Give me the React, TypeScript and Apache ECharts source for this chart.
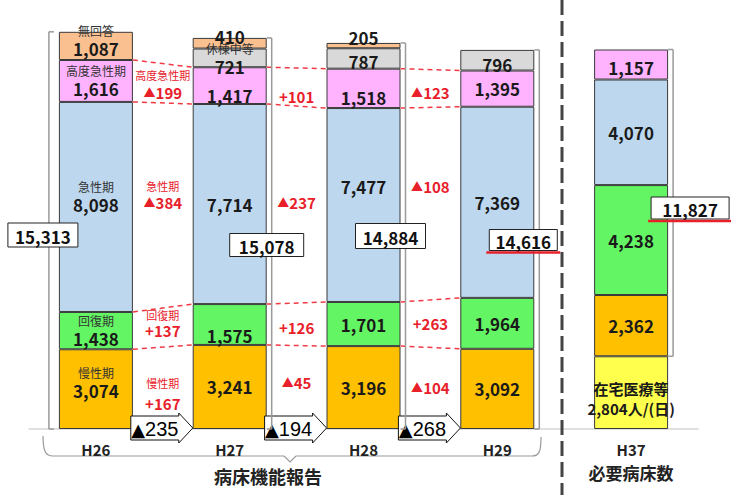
import { useEffect, useRef } from 'react';
import * as echarts from 'echarts';

const categories = ['H26', 'H27', 'H28', 'H29', 'H37'];
const homeCare = [null, null, null, null, 2804];
const chronic = [3074, 3241, 3196, 3092, 2362];
const recovery = [1438, 1575, 1701, 1964, 4238];
const acute = [8098, 7714, 7477, 7369, 4070];
const highAcute = [1616, 1417, 1518, 1395, 1157];
const suspended = [null, 721, 787, 796, null];
const noAnswer = [1087, 410, 205, null, null];

const segNames = ['在宅医療等', '慢性期', '回復期', '急性期', '高度急性期', '休棟中等', '無回答'];
const stackOrder: (number | null)[][] = [homeCare, chronic, recovery, acute, highAcute, suspended, noAnswer];

const FONT = '"Noto Sans CJK JP", "Noto Sans", sans-serif';
const colors = ['#FFFF4D', '#FFC000', '#63F563', '#BDD7EE', '#FFB3FF', '#D9D9D9', '#FAC090'];
const BAR_W = 74;
const HALF = BAR_W / 2;

const val = (arr: (number | null)[], i: number) => (typeof arr[i] === 'number' ? (arr[i] as number) : 0);
const bottomOf = (k: number, i: number) => {
  let s = 0;
  for (let j = 0; j < k; j++) s += val(stackOrder[j], i);
  return s;
};
const topOf = (k: number, i: number) => bottomOf(k, i) + val(stackOrder[k], i);
const fmt = (n: number) => n.toLocaleString('en-US');
const reportedTotal = (i: number) => bottomOf(7, i) - val(homeCare, i);

// label tweaks (style only)
const labelShift: Record<number, number[]> = {
  0: [0, 0, 0, 0, 6],
  1: [-7, 0, 0, 0, 0],
  2: [0, 11, 0, 0, 0],
  3: [-10, 0, -19, 0, 0],
  4: [0, 10, 9, 0, 3],
  5: [0, 1, 3, 4, 0],
  6: [-5, -7, 4, 0, 0],
};
const tags: Record<string, string> = {
  '1-0': '慢性期', '2-0': '回復期', '3-0': '急性期', '4-0': '高度急性期', '6-0': '無回答', '5-1': '休棟中等',
};

const gapNameOffset: Record<number, number> = { 4: -8, 3: -19, 2: -13, 1: -5 };
const gapValueOffset: Record<number, number>[] = [
  { 4: 9, 3: -3, 2: 3, 1: 15 },
  { 4: 10, 3: -2, 2: 3, 1: -5 },
  { 4: 4, 3: -17, 2: 0, 1: -1 },
];
const boxDx = [-53, 37, 27, 26, 59];
const boxY = [235, 245, 236, 240, 208];
const boxW = [70, 74, 70, 68, 78];
const boxH = [24, 23, 25, 21, 22];

export default function App() {
  const ref = useRef<HTMLDivElement>(null);
  useEffect(() => {
    if (!ref.current) return;
    const chart = echarts.init(ref.current, null, { renderer: 'svg' });

    const barSeries = stackOrder.map((arr, k) => ({
      name: segNames[k],
      type: 'bar',
      stack: 'total',
      barWidth: BAR_W,
      z: 2,
      itemStyle: {
        color: colors[k],
        borderColor: '#3A3A3A',
        borderWidth: 1,
      },
      emphasis: { disabled: true },
      label: {
        show: true,
        position: 'inside',
        formatter: (p: any) => {
          const i = p.dataIndex;
          if (k === 0) return `{h|在宅医療等}\n{h|${fmt(p.value)}人/(日)}`;
          const tag = tags[`${k}-${i}`];
          return tag ? `{t|${tag}}\n{v|${fmt(p.value)}}` : `{v|${fmt(p.value)}}`;
        },
        rich: {
          t: { fontSize: 12, color: '#333', lineHeight: 16, fontFamily: FONT },
          v: { fontSize: 17, fontWeight: 'bold', color: '#1a1a1a', lineHeight: 20, fontFamily: FONT },
          h: { fontSize: 15, fontWeight: 'bold', color: '#1a1a1a', lineHeight: 20, fontFamily: FONT },
        },
      },
      data: arr.map((v, i) => {
        if (v == null) return '-';
        const item: any = { value: v, label: { offset: [0, labelShift[k][i]] } };
        if (k === 6 && i === 2) item.label = { position: 'top', distance: 0, offset: [0, 5] };
        return item;
      }),
    }));

    const gapSeries = {
      type: 'custom',
      z: 5,
      clip: false,
      silent: true,
      encode: { x: 0, y: 1 },
      data: [[0, 0], [1, 0], [2, 0]],
      renderItem: (params: any, api: any) => {
        const g = params.dataIndex;
        const p0 = api.coord([g, 0]);
        const p1 = api.coord([g + 1, 0]);
        const xa = p0[0] + HALF;
        const xb = p1[0] - HALF;
        const cx = (p0[0] + p1[0]) / 2;
        const base = p0[1];
        const children: any[] = [];
        const bounds = [
          [bottomOf(2, g), bottomOf(2, g + 1)],
          [topOf(2, g), topOf(2, g + 1)],
          [topOf(3, g), topOf(3, g + 1)],
          [topOf(4, g), topOf(4, g + 1)],
        ];
        bounds.forEach(([a, b]) => {
          children.push({
            type: 'line',
            shape: { x1: xa, y1: api.coord([g, a])[1], x2: xb, y2: api.coord([g + 1, b])[1] },
            style: { stroke: '#F03A44', lineWidth: 1.5, lineDash: [5, 4] },
          });
        });
        [4, 3, 2, 1].forEach((k) => {
          const m0 = api.coord([g, (bottomOf(k, g) + topOf(k, g)) / 2])[1];
          const m1 = api.coord([g + 1, (bottomOf(k, g + 1) + topOf(k, g + 1)) / 2])[1];
          const mid = (m0 + m1) / 2;
          const d = val(stackOrder[k], g + 1) - val(stackOrder[k], g);
          if (g === 0) {
            children.push({
              type: 'text',
              x: cx,
              y: mid + gapNameOffset[k],
              style: { text: segNames[k], fill: '#E8202A', font: `11px ${FONT}`, align: 'center', verticalAlign: 'middle' },
            });
          }
          children.push({
            type: 'text',
            x: cx,
            y: mid + gapValueOffset[g][k],
            style: {
              text: d < 0 ? `{s|▲}{n|${Math.abs(d)}}` : `{n|+${d}}`,
              rich: {
                s: { fontSize: 12, fill: '#E8202A', fontFamily: FONT },
                n: { fontSize: 15, fontWeight: 'bold', fill: '#E8202A', fontFamily: FONT },
              },
              align: 'center',
              verticalAlign: 'middle',
            },
          });
        });
        // total change arrow
        const t0 = base - 13, t1 = base + 11;
        const x0 = cx - 32, xs = cx + 16, xt = cx + 30;
        children.push({
          type: 'polygon',
          shape: { points: [[x0, t0], [xs, t0], [xs, t0 - 3], [xt, (t0 + t1) / 2], [xs, t1 + 3], [xs, t1], [x0, t1]] },
          style: { fill: '#fff', stroke: '#111', lineWidth: 1 },
        });
        const dt = reportedTotal(g + 1) - reportedTotal(g);
        children.push({
          type: 'text',
          x: cx - 8,
          y: (t0 + t1) / 2 + 1,
          style: {
            text: `{a|▲}{b|${Math.abs(dt)}}`,
            rich: {
              a: { fontSize: 18, fill: '#000', fontFamily: '"DejaVu Sans", sans-serif' },
              b: { fontSize: 20, fill: '#000', fontFamily: '"Liberation Sans", sans-serif' },
            },
            align: 'center',
            verticalAlign: 'middle',
          },
        });
        return { type: 'group', children };
      },
    };

    const totalSeries = {
      type: 'custom',
      z: 6,
      clip: false,
      silent: true,
      encode: { x: 0, y: 1 },
      data: [[0, 0], [1, 0], [2, 0], [3, 0], [4, 0]],
      renderItem: (params: any, api: any) => {
        const i = params.dataIndex;
        const cx = api.coord([i, 0])[0];
        const yTop = api.coord([i, topOf(6, i)])[1];
        const yBot = api.coord([i, val(homeCare, i)])[1];
        const side = i === 0 ? -1 : 1;
        const bx = side < 0 ? cx - HALF - 10 : cx + HALF + 5;
        const tk = -side * 5;
        const children: any[] = [
          { type: 'line', shape: { x1: bx, y1: yTop, x2: bx, y2: yBot }, style: { stroke: '#9A9A9A', lineWidth: 1.5 } },
          { type: 'line', shape: { x1: bx, y1: yTop, x2: bx + tk, y2: yTop }, style: { stroke: '#9A9A9A', lineWidth: 1.5 } },
          { type: 'line', shape: { x1: bx, y1: yBot, x2: bx + tk, y2: yBot }, style: { stroke: '#9A9A9A', lineWidth: 1.5 } },
        ];
        const bcx = cx + boxDx[i];
        const w = boxW[i], h = boxH[i];
        children.push({
          type: 'rect',
          shape: { x: bcx - w / 2, y: boxY[i] - h / 2, width: w, height: h },
          style: { fill: '#fff', stroke: '#222', lineWidth: 1 },
        });
        children.push({
          type: 'text',
          x: bcx,
          y: boxY[i] + 1,
          style: { text: fmt(reportedTotal(i)), fill: '#111', font: `bold 17px ${FONT}`, align: 'center', verticalAlign: 'middle' },
        });
        if (i >= 3) {
          children.push({
            type: 'line',
            shape: { x1: bcx - w / 2 - 3, y1: boxY[i] + h / 2 + 2, x2: bcx + w / 2 + 3, y2: boxY[i] + h / 2 + 2 },
            style: { stroke: '#E8202A', lineWidth: 2.5 },
          });
        }
        return { type: 'group', children };
      },
    };

    const braceStyle = { stroke: '#9A9A9A', lineWidth: 1.2, fill: null };

    chart.setOption({
      animation: false,
      backgroundColor: '#fff',
      grid: { left: 29, right: 33, top: 14, bottom: 66, containLabel: false },
      xAxis: {
        type: 'category',
        data: categories,
        axisTick: { show: false },
        axisLine: { lineStyle: { color: '#D6D6D6', width: 1.5 } },
        axisLabel: {
          margin: 10,
          formatter: (v: string) => (v === 'H37' ? `{a|${v}}\n{b|必要病床数}` : `{a|${v}}`),
          rich: {
            a: { fontSize: 15, fontWeight: 'bold', color: '#222', lineHeight: 20, fontFamily: FONT },
            b: { fontSize: 17, fontWeight: 'bold', color: '#222', lineHeight: 26, fontFamily: FONT },
          },
        },
      },
      yAxis: { type: 'value', min: 0, max: 16000, show: false, splitLine: { show: false } },
      series: [...barSeries, gapSeries, totalSeries],
      graphic: [
        {
          type: 'line',
          shape: { x1: 562, y1: 0, x2: 562, y2: 495 },
          style: { stroke: '#444', lineWidth: 3, lineDash: [15, 6] },
          z: 10,
        },
        { type: 'bezierCurve', shape: { x1: 43, y1: 436, cpx1: 43, cpy1: 452, cpx2: 46, cpy2: 456, x2: 53, y2: 456 }, style: braceStyle },
        { type: 'line', shape: { x1: 53, y1: 456, x2: 284, y2: 456 }, style: braceStyle },
        { type: 'polyline', shape: { points: [[284, 456], [290, 462], [296, 456]] }, style: braceStyle },
        { type: 'line', shape: { x1: 296, y1: 456, x2: 532, y2: 456 }, style: braceStyle },
        { type: 'bezierCurve', shape: { x1: 532, y1: 456, cpx1: 539, cpy1: 456, cpx2: 541, cpy2: 452, x2: 541, y2: 437 }, style: braceStyle },
        {
          type: 'text',
          x: 268,
          y: 476,
          style: { text: '病床機能報告', fill: '#222', font: `bold 18px ${FONT}`, align: 'center', verticalAlign: 'middle' },
        },
      ],
    });
    return () => chart.dispose();
  }, []);
  return <div ref={ref} style={{ position: 'fixed', left: 0, top: 0, width: 731, height: 495, background: '#fff' }} />;
}
